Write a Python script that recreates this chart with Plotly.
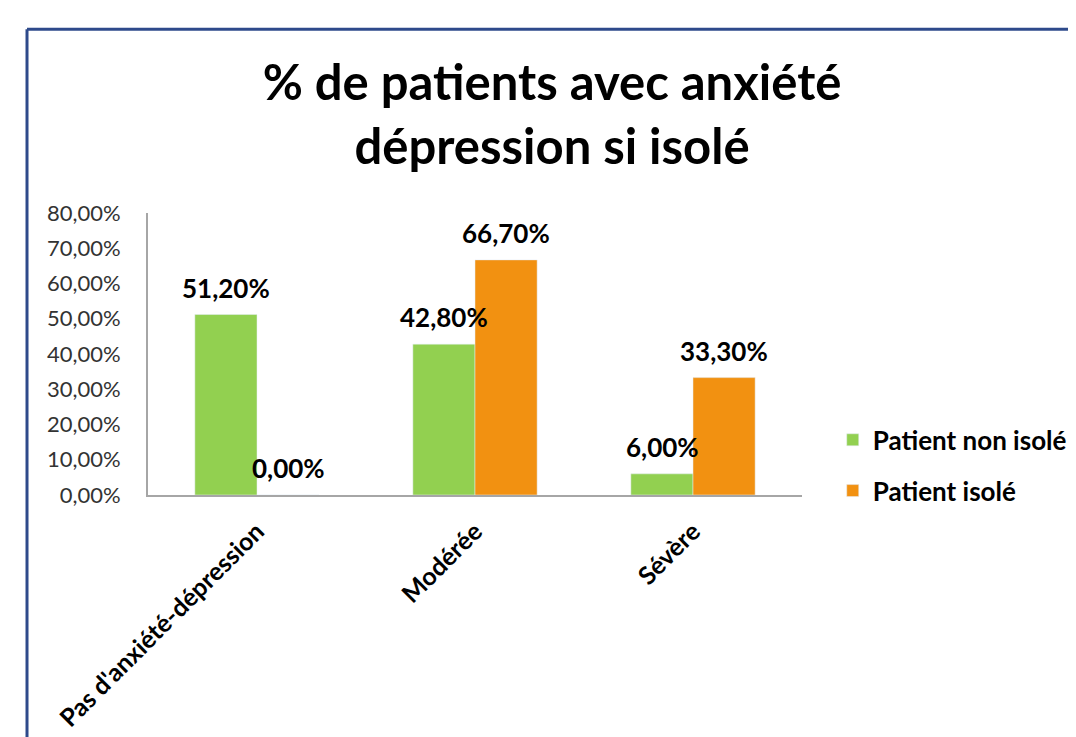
import plotly.graph_objects as go

categories = ["Pas d'anxiété-dépression", "Modérée", "Sévère"]
non_isole = [0.512, 0.428, 0.06]
isole = [0.0, 0.667, 0.333]
y_ticks = [0, 0.1, 0.2, 0.3, 0.4, 0.5, 0.6, 0.7, 0.8]

green = "#92D050"
orange = "#F29111"
font_name = "Lato"

fig = go.Figure()
fig.add_trace(go.Bar(x=categories, y=non_isole, name="Patient non isolé",
                     marker_color=green, legendgroup="a"))
fig.add_trace(go.Bar(x=categories, y=isole, name="Patient isolé",
                     marker_color=orange, legendgroup="b"))

# data labels, sitting a bit above each bar like in the spreadsheet
for vals, shift in [(non_isole, -31), (isole, 31)]:
    for c, v in zip(categories, vals):
        fig.add_annotation(x=c, y=v, text=f"{v*100:.2f}%".replace(".", ","),
                           xshift=shift, yshift=27, showarrow=False,
                           font=dict(family=font_name, size=26, color="black", weight="bold"))

# dark blue frame (only top and left edges are visible in the picture)
frame = dict(color="#2E4A8B", width=3)
fig.add_shape(type="line", xref="paper", yref="paper",
              x0=-0.185, x1=-0.185, y0=-1.5, y1=1.652, line=frame)
fig.add_shape(type="line", xref="paper", yref="paper",
              x0=-0.185, x1=1.6, y0=1.652, y1=1.652, line=frame)

fig.update_layout(
    width=1076, height=737,
    margin=dict(l=140, r=282, t=205, b=250),
    paper_bgcolor="white", plot_bgcolor="white",
    separators=", ",
    barmode="group", bargap=0.43, bargroupgap=0,
    font=dict(family=font_name, color="#333333"),
    title=dict(text="% de patients avec anxiété<br>dépression si isolé",
               x=0.5056, xanchor="center", y=0.875, yanchor="middle",
               font=dict(family=font_name, size=49, color="black", weight="bold")),
    legend=dict(x=1.047, y=0.105, xanchor="left", yanchor="middle",
                font=dict(family=font_name, size=26, color="black", weight="bold"),
                tracegroupgap=14, traceorder="grouped"),
)
fig.update_yaxes(range=[0, 0.8], tickvals=y_ticks, tickformat=".2%",
                 showgrid=False, showline=True, linecolor="#A6A6A6", linewidth=2,
                 ticks="", tickfont=dict(size=22, color="#333333"),
                 ticklabelstandoff=21, zeroline=False)
fig.update_xaxes(showline=True, linecolor="#A6A6A6", linewidth=2, tickangle=-45,
                 tickfont=dict(size=25, color="black", weight="bold"),
                 ticklabelstandoff=10)

fig.write_html("out.html")
